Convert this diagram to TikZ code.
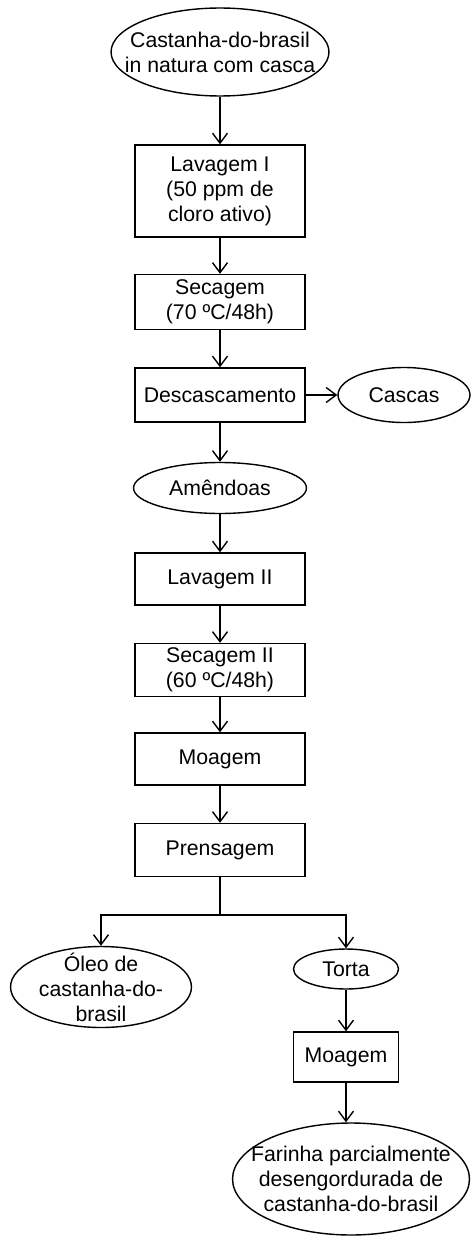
\documentclass[tikz,border=0pt]{standalone}
\usepackage{fontspec}
\setmainfont{Liberation Sans}
\usetikzlibrary{shapes.geometric, arrows.meta}

\begin{document}
\begin{tikzpicture}[x=0.02cm, y=-0.02cm,
    font=\fontsize{12.1}{14.2}\selectfont,
    box/.style={draw, rectangle, align=center, minimum width=3.4cm, inner sep=2pt},
    oval/.style={draw, ellipse, align=center, inner sep=-3cm},
    flow/.style={-{Straight Barb[length=2mm, width=3mm]}},
    every path/.style={line width=0.8pt}]
            \useasboundingbox (0,0) rectangle (472,1237);
            \node[oval, minimum width=4.36cm, minimum height=1.76cm] (nut) at (220,52) {Castanha-do-brasil\\in natura com casca};
            \node[box, minimum height=1.84cm] (lav1) at (220,191) {Lavagem I\\(50 ppm de\\cloro ativo)};
            \node[box, minimum height=1.1cm] (sec1) at (220,302) {Secagem\\(70 ºC/48h)};
            \node[box, minimum height=1.08cm] (desc) at (220,395) {Descascamento};
            \node[oval, minimum width=2.64cm, minimum height=1.1cm] (cascas) at (404,395) {Cascas};
            \node[oval, minimum width=3.46cm, minimum height=1.02cm] (amend) at (220,488) {Amêndoas};
            \node[box, minimum height=1.04cm] (lav2) at (220,579) {Lavagem II};
            \node[box, minimum height=1.06cm] (sec2) at (220,670) {Secagem II\\(60 ºC/48h)};
            \node[box, minimum height=1.04cm] (moag) at (220,759) {Moagem};
            \node[box, minimum height=1.06cm] (prens) at (220,850) {Prensagem};
            \coordinate (split) at (220,915);
            \node[oval, minimum width=3.62cm, minimum height=1.62cm] (oleo) at (101,987) {Óleo de\\castanha-do-\\brasil};
            \node[oval, minimum width=2.1cm, minimum height=0.8cm] (torta) at (346,969) {Torta};
            \node[box, minimum width=2.1cm, minimum height=1cm] (moag2) at (346,1057) {Moagem};
            \node[oval, minimum width=4.74cm, minimum height=2.24cm] (farinha) at (351,1179) {Farinha parcialmente\\desengordurada de\\castanha-do-brasil};
            % main line
            \draw[flow] (nut) -- (lav1);
            \draw[flow] (lav1) -- (sec1);
            \draw[flow] (sec1) -- (desc);
            \draw[flow] (desc) -- (cascas);
            \draw[flow] (desc) -- (amend);
            \draw[flow] (amend) -- (lav2);
            \draw[flow] (lav2) -- (sec2);
            \draw[flow] (sec2) -- (moag);
            \draw[flow] (moag) -- (prens);
            % split after pressing
            \draw (prens) -- (split);
            \draw[flow] (split) -| (oleo);
            \draw[flow] (split) -| (torta);
            \draw[flow] (torta) -- (moag2);
            \draw[flow] (moag2) -- (moag2.south |- farinha.north);
        \end{tikzpicture}
\end{document}
